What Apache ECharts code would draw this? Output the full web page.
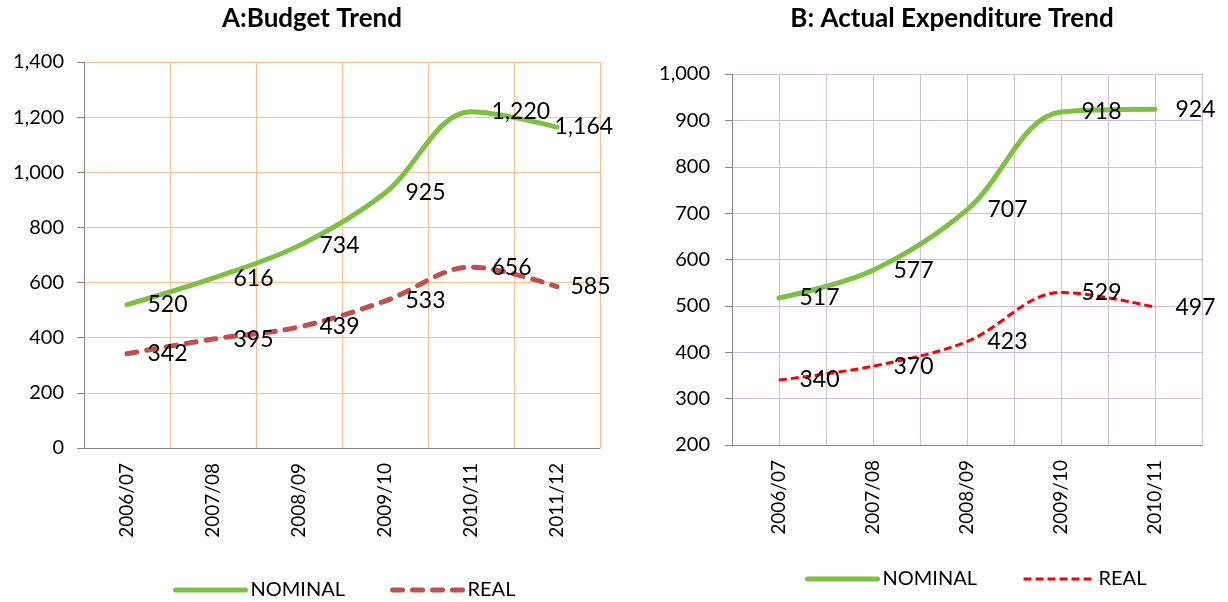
<!DOCTYPE html>
<html>
<head>
<meta charset="utf-8">
<script src="https://cdn.jsdelivr.net/npm/echarts@6/dist/echarts.min.js"></script>
<style>
  html, body { margin: 0; padding: 0; background: #fff; }
  .chart { position: absolute; top: 0; width: 614px; height: 602px; }
</style>
</head>
<body>
<div id="chartA" class="chart" style="left:0"></div>
<div id="chartB" class="chart" style="left:614px"></div>
<script>
// A: budget
const categoriesA = ["2006/07", "2007/08", "2008/09", "2009/10", "2010/11", "2011/12"];
const nominalA = [520, 616, 734, 925, 1220, 1164];
const realA = [342, 395, 439, 533, 656, 585];
const yTicksA = [0, 200, 400, 600, 800, 1000, 1200, 1400];

// B: actual expenditure
const categoriesB = ["2006/07", "2007/08", "2008/09", "2009/10", "2010/11"];
const nominalB = [517, 577, 707, 918, 924];
const realB = [340, 370, 423, 529, 497];
const yTicksB = [200, 300, 400, 500, 600, 700, 800, 900, 1000];

const FONT = "Lato, 'Open Sans', sans-serif";
const GREEN = "#7dc142";
const fmt = (v) => Number(v).toLocaleString("en-US");

// labels sit to the right of each point; a few were nudged in the original
function points(values, nudge) {
  return values.map((v, i) => {
    if (nudge && nudge[i] !== undefined) {
      return { value: v, label: { distance: nudge[i] } };
    }
    return v;
  });
}

function lineSeries(name, values, color, width, dash, cap, nudge) {
  return {
    name: name,
    type: "line",
    smooth: 0.35,
    symbol: "circle",
    symbolSize: 1,
    data: points(values, nudge),
    itemStyle: { color: color },
    lineStyle: { color: color, width: width, type: dash, cap: cap },
    label: {
      show: true,
      position: "right",
      distance: 20,
      fontFamily: FONT,
      fontSize: 23,
      color: "#000",
      formatter: (p) => fmt(p.value),
    },
    emphasis: { disabled: true },
    z: 3,
  };
}

function yAxis(ticks, margin) {
  return {
    type: "value",
    min: ticks[0],
    max: ticks[ticks.length - 1],
    interval: ticks[1] - ticks[0],
    axisLine: { show: true, lineStyle: { color: "#868686", width: 1 } },
    axisTick: { show: true, length: 7, lineStyle: { color: "#868686" } },
    axisLabel: {
      margin: margin,
      fontFamily: FONT,
      fontSize: 20,
      color: "#000",
      formatter: fmt,
    },
  };
}

function xLabel() {
  return { rotate: 90, margin: 15, fontFamily: FONT, fontSize: 19, color: "#000", interval: 0 };
}

function legend(left, top, realWidth, realDash) {
  return {
    left: left,
    top: top,
    itemWidth: 70,
    itemHeight: 14,
    itemGap: 45,
    itemStyle: { opacity: 0 },
    textStyle: { fontFamily: FONT, fontSize: 20, color: "#000" },
    data: [
      { name: "NOMINAL", lineStyle: { width: 5 } },
      { name: "REAL", lineStyle: { width: realWidth, type: realDash } },
    ],
  };
}

const chartA = echarts.init(document.getElementById("chartA"));
chartA.setOption({
  animation: false,
  graphic: [
    {
      type: "text",
      x: 312,
      y: 6,
      style: { text: "A:Budget Trend", font: "bold 26px " + FONT, fill: "#000", textAlign: "center" },
    },
  ],
  grid: { left: 84, top: 62, width: 516, height: 386 },
  legend: legend(168, 575, 5, [10, 10]),
  xAxis: {
    type: "category",
    data: categoriesA,
    boundaryGap: true,
    axisLine: { lineStyle: { color: "#868686" } },
    axisTick: { length: 8, lineStyle: { color: "#868686" } },
    axisLabel: xLabel(),
    splitLine: { show: true, lineStyle: { color: "#fac090", width: 1 } },
  },
  yAxis: Object.assign(yAxis(yTicksA, 20), {
    splitLine: { show: true, lineStyle: { color: "#fac090", width: 1 } },
  }),
  series: [
    lineSeries("NOMINAL", nominalA, GREEN, 5, "solid", "round", { 5: -3 }),
    lineSeries("REAL", realA, "#c0504d", 5, [10, 10], "round", { 5: 13 }),
  ],
});

const chartB = echarts.init(document.getElementById("chartB"));
chartB.setOption({
  animation: false,
  graphic: [
    {
      type: "text",
      x: 338,
      y: 6,
      style: { text: "B: Actual Expenditure Trend", font: "bold 26px " + FONT, fill: "#000", textAlign: "center" },
    },
  ],
  grid: { left: 118, top: 74, width: 470, height: 371 },
  legend: legend(186, 564, 3, [8, 4]),
  xAxis: [
    {
      type: "category",
      data: categoriesB,
      boundaryGap: true,
      axisLine: { lineStyle: { color: "#868686" } },
      axisTick: { length: 8, lineStyle: { color: "#868686" } },
      axisLabel: xLabel(),
      splitLine: { show: false },
    },
    {
      // vertical gridlines every half category
      type: "value",
      min: 0,
      max: categoriesB.length,
      interval: 0.5,
      axisLine: { show: false },
      axisTick: { show: false },
      axisLabel: { show: false },
      splitLine: { show: true, lineStyle: { color: "#ccc1da", width: 1 } },
    },
  ],
  yAxis: Object.assign(yAxis(yTicksB, 22), {
    splitLine: { show: true, lineStyle: { color: "#ccc1da", width: 1 } },
  }),
  series: [
    lineSeries("NOMINAL", nominalB, GREEN, 5, "solid", "round"),
    lineSeries("REAL", realB, "#ff0000", 3, [8, 4], "butt"),
  ],
});
</script>
</body>
</html>
